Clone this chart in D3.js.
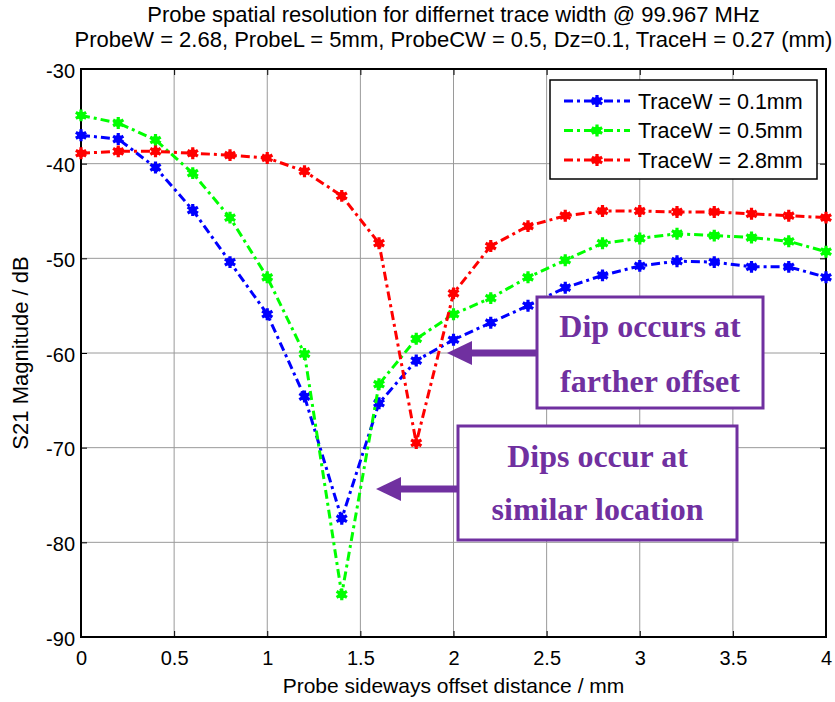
<!DOCTYPE html>
<html>
<head>
<meta charset="utf-8">
<script src="https://cdn.jsdelivr.net/npm/d3@7"></script>
<style>
  body { margin: 0; background: #fff; }
  svg { display: block; }
</style>
</head>
<body>
<svg id="chart" width="835" height="702"></svg>
<script>
// Sideways offset positions (mm)
const offsets = [0, 0.2, 0.4, 0.6, 0.8, 1.0, 1.2, 1.4, 1.6, 1.8, 2.0, 2.2, 2.4, 2.6, 2.8, 3.0, 3.2, 3.4, 3.6, 3.8, 4.0];

// S21 magnitude (dB) per trace width
const trace01 = [-37.0, -37.4, -40.4, -44.9, -50.4, -55.9, -64.6, -77.5, -65.3, -60.8, -58.6, -56.8, -55.0, -53.1, -51.8, -50.8, -50.3, -50.4, -50.9, -50.9, -52.0];
const trace05 = [-34.9, -35.7, -37.5, -41.0, -45.7, -52.0, -60.1, -85.5, -63.3, -58.5, -55.9, -54.2, -52.0, -50.2, -48.4, -47.9, -47.4, -47.6, -47.8, -48.2, -49.3];
const trace28 = [-38.9, -38.7, -38.7, -38.9, -39.1, -39.4, -40.8, -43.4, -48.4, -69.5, -53.7, -48.7, -46.6, -45.5, -45.0, -45.0, -45.1, -45.1, -45.3, -45.5, -45.7];

const seriesNames = ["TraceW = 0.1mm", "TraceW = 0.5mm", "TraceW = 2.8mm"];
const seriesColors = ["#0000ff", "#00ff00", "#ff0000"];

const xTicks = [0, 0.5, 1, 1.5, 2, 2.5, 3, 3.5, 4];
const yTicks = [-90, -80, -70, -60, -50, -40, -30];

const titleLines = [
  "Probe spatial resolution for differnet trace width @ 99.967 MHz",
  "ProbeW = 2.68, ProbeL = 5mm, ProbeCW = 0.5, Dz=0.1, TraceH = 0.27 (mm)"
];

const series = [trace01, trace05, trace28].map((vals, i) => ({
  name: seriesNames[i],
  color: seriesColors[i],
  points: offsets.map((x, j) => ({ x, y: vals[j] }))
}));

const svg = d3.select("#chart");
const L = 81, R = 826, T = 69, B = 637;

const x = d3.scaleLinear().domain([0, 4]).range([L, R]);
const y = d3.scaleLinear().domain([-90, -30]).range([B, T]);

const font = "Arial, 'Liberation Sans', sans-serif";
const fmt = d => String(d);

// grid
const grid = svg.append("g").attr("stroke", "#9a9a9a").attr("stroke-width", 1);
xTicks.slice(1, -1).forEach(t => grid.append("line")
  .attr("x1", x(t)).attr("x2", x(t)).attr("y1", T).attr("y2", B));
yTicks.slice(1, -1).forEach(t => grid.append("line")
  .attr("x1", L).attr("x2", R).attr("y1", y(t)).attr("y2", y(t)));

// axes with inward ticks on all four sides
const axisBottom = d3.axisBottom(x).tickValues(xTicks).tickFormat(fmt).tickSizeInner(-6).tickSizeOuter(0);
const axisLeft = d3.axisLeft(y).tickValues(yTicks).tickFormat(fmt).tickSizeInner(-6).tickSizeOuter(0);
const axisTop = d3.axisTop(x).tickValues(xTicks).tickFormat("").tickSizeInner(-6).tickSizeOuter(0);
const axisRight = d3.axisRight(y).tickValues(yTicks).tickFormat("").tickSizeInner(-6).tickSizeOuter(0);

function styleAxis(g) {
  g.selectAll(".domain").remove();
  g.selectAll("line").attr("stroke", "#000").attr("stroke-width", 1);
  g.selectAll("text").attr("fill", "#000").style("font-family", font).style("font-size", "20px");
}
const gB = svg.append("g").attr("transform", `translate(0,${B})`).call(axisBottom).call(styleAxis);
const gL = svg.append("g").attr("transform", `translate(${L},0)`).call(axisLeft).call(styleAxis);
svg.append("g").attr("transform", `translate(0,${T})`).call(axisTop).call(styleAxis);
svg.append("g").attr("transform", `translate(${R},0)`).call(axisRight).call(styleAxis);

gB.selectAll(".tick text").attr("dy", null).attr("y", 28);
gL.selectAll(".tick text").attr("dy", "0.4em").attr("x", -6);

// plot frame
svg.append("rect").attr("x", L).attr("y", T).attr("width", R - L).attr("height", B - T)
  .attr("fill", "none").attr("stroke", "#000").attr("stroke-width", 2);

// series lines and markers
const line = d3.line().x(d => x(d.x)).y(d => y(d.y));
const marker = d3.symbol().type(d3.symbolAsterisk).size(100);
const dash = "9,4,3,4";

const plot = svg.append("g");
series.forEach(s => {
  plot.append("path").datum(s.points).attr("d", line)
    .attr("fill", "none").attr("stroke", s.color).attr("stroke-width", 3)
    .attr("stroke-dasharray", dash);
  plot.selectAll(null).data(s.points).enter().append("path")
    .attr("transform", d => `translate(${x(d.x)},${y(d.y)})`)
    .attr("d", marker).attr("fill", "none").attr("stroke", s.color).attr("stroke-width", 3.2);
  plot.selectAll(null).data(s.points).enter().append("circle")
    .attr("cx", d => x(d.x)).attr("cy", d => y(d.y)).attr("r", 4).attr("fill", s.color);
});

// legend
const lg = svg.append("g");
lg.append("rect").attr("x", 550).attr("y", 80).attr("width", 267).attr("height", 99)
  .attr("fill", "#fff").attr("stroke", "#000").attr("stroke-width", 1.5);
series.forEach((s, i) => {
  const yy = 101 + i * 29.5;
  lg.append("line").attr("x1", 564).attr("x2", 630).attr("y1", yy).attr("y2", yy)
    .attr("stroke", s.color).attr("stroke-width", 3).attr("stroke-dasharray", dash);
  lg.append("path").attr("transform", `translate(597,${yy})`).attr("d", marker)
    .attr("fill", "none").attr("stroke", s.color).attr("stroke-width", 3.2);
  lg.append("circle").attr("cx", 597).attr("cy", yy).attr("r", 4).attr("fill", s.color);
  lg.append("text").attr("x", 638).attr("y", yy + 7.5).text(s.name)
    .style("font-family", font).style("font-size", "21.5px").attr("fill", "#000");
});

// titles and axis labels
titleLines.forEach((t, i) => svg.append("text")
  .attr("x", (L + R) / 2).attr("y", 22 + i * 25).attr("text-anchor", "middle")
  .style("font-family", font).style("font-size", "22px").attr("fill", "#000").text(t));

svg.append("text").attr("x", (L + R) / 2).attr("y", 693).attr("text-anchor", "middle")
  .style("font-family", font).style("font-size", "21px").text("Probe sideways offset distance / mm");

svg.append("text").attr("transform", `translate(28,353) rotate(-90)`).attr("text-anchor", "middle")
  .style("font-family", font).style("font-size", "22px").text("S21 Magnitude / dB");

// annotations
const purple = "#7030a0";
const serif = "'Times New Roman', 'Liberation Serif', serif";

function arrow(xTail, xTip, yy) {
  const g = svg.append("g");
  g.append("line").attr("x1", xTail).attr("x2", xTip + 20).attr("y1", yy).attr("y2", yy)
    .attr("stroke", purple).attr("stroke-width", 7);
  g.append("path").attr("d", `M${xTip},${yy} L${xTip + 25},${yy - 12} L${xTip + 25},${yy + 12} Z`)
    .attr("fill", purple);
}

function callout(x0, y0, w, h, lines, baselines) {
  const g = svg.append("g");
  g.append("rect").attr("x", x0).attr("y", y0).attr("width", w).attr("height", h)
    .attr("fill", "#fff").attr("stroke", purple).attr("stroke-width", 3);
  lines.forEach((t, i) => g.append("text").attr("x", x0 + w / 2).attr("y", baselines[i])
    .attr("text-anchor", "middle").style("font-family", serif).style("font-size", "32px")
    .style("font-weight", "bold").attr("fill", purple).text(t));
}

arrow(537, 447, 353);
callout(537, 297, 226, 111, ["Dip occurs at", "farther offset"], [337, 392]);
arrow(458, 376, 489);
callout(458, 426, 279, 114, ["Dips occur at", "similar location"], [467, 520]);
</script>
</body>
</html>
